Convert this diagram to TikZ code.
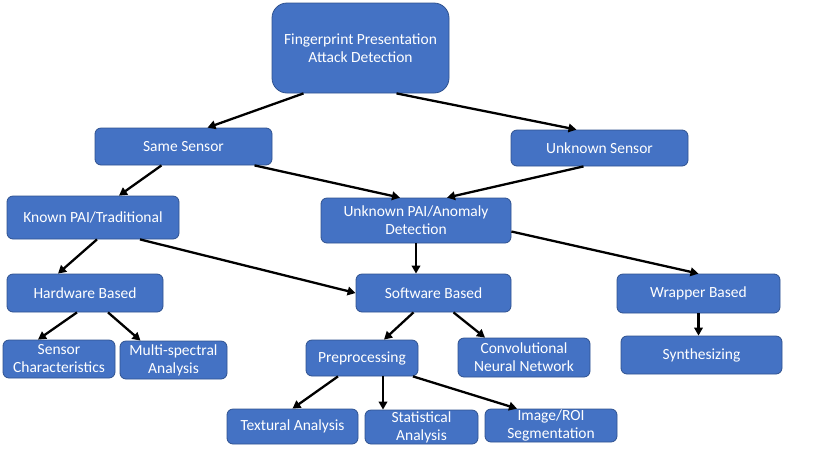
\documentclass[tikz,border=0pt]{standalone}
\usepackage{fontspec}
\setmainfont{Carlito}
\usepackage{tikz}
\usetikzlibrary{arrows.meta}
\definecolor{boxblue}{HTML}{4472C4}
\definecolor{boxedge}{HTML}{2F528F}

\begin{document}
\begin{tikzpicture}[x=1pt, y=-1pt,
        main/.style = {draw=boxedge, line width=0.8pt, fill=boxblue, text=white, rounded corners=6pt,
                       inner sep=0pt, align=center, font=\fontsize{15.5}{18}\selectfont},
        arr/.style = {-{Triangle[length=8pt,width=8.5pt]}, line width=2.3pt, black}]
            \useasboundingbox (0,0) rectangle (830,467);

            \node[main, rounded corners=15pt, minimum width=177pt, minimum height=90pt] (fpad) at (360.5,48) {Fingerprint Presentation\\Attack Detection};

            \node[main, minimum width=177pt, minimum height=37pt] (same) at (183.5,146.5) {Same Sensor};
            \node[main, minimum width=177pt, minimum height=36pt] (unks) at (599.5,148) {Unknown Sensor};

            \path[arr] ([xshift=-57pt]fpad.south) edge ([xshift=24pt]same.north);
            \path[arr] ([xshift=36pt]fpad.south) edge ([xshift=-23pt]unks.north);

            \node[main, minimum width=172pt, minimum height=43pt] (known) at (93,217.5) {Known PAI/Traditional};
            \node[main, minimum width=190pt, minimum height=45pt] (unkpai) at (416,220.5) {Unknown PAI/Anomaly\\Detection};

            \path[arr] ([xshift=-22pt]same.south) edge ([xshift=26pt]known.north);
            \path[arr] ([xshift=71pt]same.south) edge ([xshift=-16pt]unkpai.north);
            \path[arr] ([xshift=-16pt]unks.south) edge ([xshift=31pt]unkpai.north);

            \node[main, minimum width=156pt, minimum height=38pt] (hw) at (85,293) {Hardware Based};
            \node[main, minimum width=155pt, minimum height=38pt] (sw) at (433.5,293) {Software Based};
            \node[main, minimum width=163pt, minimum height=39pt] (wrap) at (698.5,293.5) {Wrapper Based};

            \path[arr] ([xshift=4pt]known.south) edge ([xshift=-27pt]hw.north);
            \path[arr] ([xshift=47pt]known.south) edge (sw.west);
            \path[arr] (unkpai.south) edge (unkpai.south |- sw.north);
            \path[arr] ([yshift=-11pt]unkpai.east) edge (wrap.north);

            \node[main, minimum width=112pt, minimum height=38pt] (senschar) at (59,359) {Sensor\\Characteristics};
            \node[main, minimum width=107pt, minimum height=38pt] (multi) at (173.5,360) {Multi-spectral\\Analysis};
            \node[main, minimum width=112pt, minimum height=36pt] (prep) at (362,358) {Preprocessing};
            \node[main, minimum width=132pt, minimum height=39pt] (cnn) at (524,357.5) {Convolutional\\Neural Network};
            \node[main, minimum width=161pt, minimum height=38pt] (synth) at (701.5,355) {Synthesizing};

            \path[arr] ([xshift=-8pt]hw.south) edge ([xshift=-21pt]senschar.north);
            \path[arr] ([xshift=23pt]hw.south) edge ([xshift=-33pt]multi.north);
            \path[arr] ([xshift=-20pt]sw.south) edge ([xshift=22pt]prep.north);
            \path[arr] ([xshift=20pt]sw.south) edge ([xshift=-39pt]cnn.north);
            \path[arr] (wrap.south) edge (wrap.south |- synth.north);

            \node[main, minimum width=131pt, minimum height=35pt] (textural) at (292.5,426.5) {Textural Analysis};
            \node[main, minimum width=113pt, minimum height=34pt] (stat) at (421.5,427) {Statistical\\Analysis};
            \node[main, minimum width=132pt, minimum height=33pt] (roi) at (551,425.5) {Image/ROI\\Segmentation};

            \path[arr] ([xshift=-24pt]prep.south) edge (textural.north);
            \path[arr] ([xshift=21pt]prep.south) edge ([xshift=21pt]prep.south |- stat.north);
            \path[arr] ([xshift=51pt]prep.south) edge ([xshift=-34pt]roi.north);
        \end{tikzpicture}
\end{document}
